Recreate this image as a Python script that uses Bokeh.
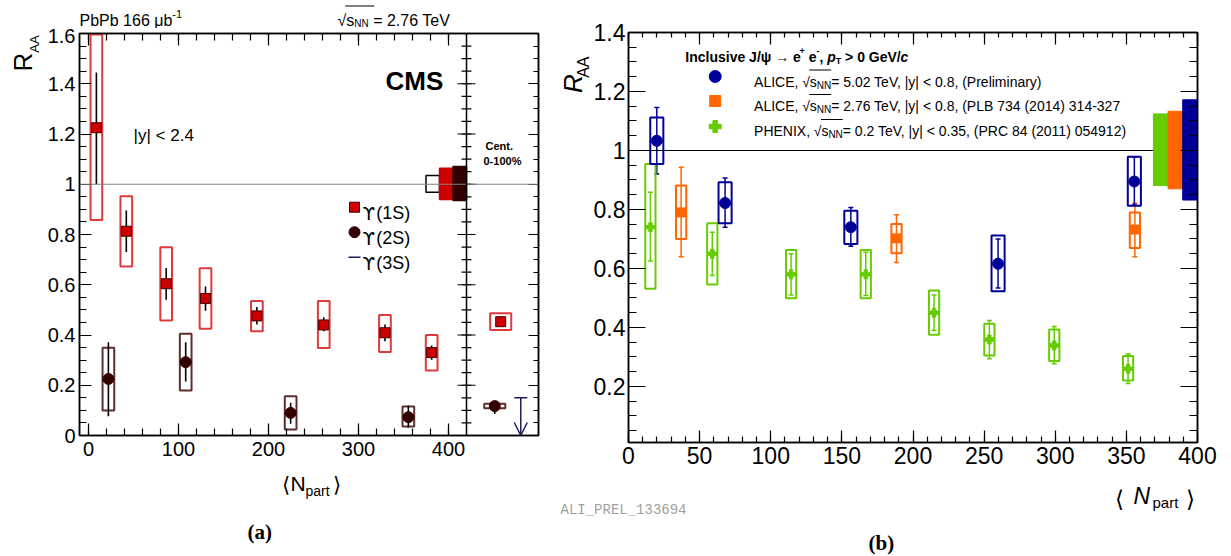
import math
from bokeh.plotting import figure
from bokeh.layouts import row, column
from bokeh.models import (Range1d, FixedTicker, LinearAxis, Label, Span,
                          ColumnDataSource, Whisker, TeeHead, Arrow, OpenHead,
                          CustomJSTickFormatter)
from bokeh.embed import file_html
from bokeh.resources import INLINE

# ===================== Panel (a): CMS, Upsilon R_AA vs <Npart> =====================
npart_1s   = [8.75, 42.0, 86.3, 130.0, 187.1, 261.4, 329.4, 381.3]
raa_1s     = [1.225, 0.813, 0.604, 0.545, 0.476, 0.440, 0.409, 0.330]
stat_lo_1s = [1.000, 0.730, 0.540, 0.497, 0.442, 0.415, 0.375, 0.301]
stat_hi_1s = [1.445, 0.896, 0.667, 0.593, 0.511, 0.471, 0.442, 0.358]
syst_lo_1s = [0.858, 0.673, 0.458, 0.425, 0.415, 0.348, 0.332, 0.259]
syst_hi_1s = [1.596, 0.952, 0.749, 0.666, 0.535, 0.535, 0.480, 0.400]

npart_2s   = [22.1, 108.0, 224.6, 355.4]
raa_2s     = [0.225, 0.292, 0.090, 0.073]
stat_lo_2s = [0.077, 0.215, 0.047, 0.031]
stat_hi_2s = [0.371, 0.371, 0.130, 0.119]
syst_lo_2s = [0.100, 0.179, 0.024, 0.036]
syst_hi_2s = [0.349, 0.405, 0.156, 0.115]

# centrality-integrated (0-100 %) values, drawn in the narrow side panel
int_x_1s, int_raa_1s, int_stat_lo_1s, int_stat_hi_1s, int_syst_lo_1s, int_syst_hi_1s = [458.0], [0.453], [0.440], [0.466], [0.420], [0.487]
int_x_2s, int_raa_2s, int_stat_lo_2s, int_stat_hi_2s, int_syst_lo_2s, int_syst_hi_2s = [451.4], [0.117], [0.086], [0.137], [0.108], [0.126]
int_x_3s, int_ul_3s = [480.3], [0.150]

# global uncertainty boxes at R_AA = 1
glob_a_left  = [375.0, 390.0, 405.0]
glob_a_right = [390.0, 405.0, 420.0]
glob_a_lo    = [0.968, 0.939, 0.935]
glob_a_hi    = [1.035, 1.064, 1.071]

ticks_a_x = [0, 100, 200, 300, 400]
minor_a_x = list(range(0, 401, 20))
ticks_a_y = [0, 0.2, 0.4, 0.6, 0.8, 1.0, 1.2, 1.4, 1.6]
minor_a_y = [round(0.05 * i, 2) for i in range(33)]

# ===================== Panel (b): ALICE / PHENIX, J/psi R_AA vs <Npart> =====================
npart_b   = [19.9, 67.9, 156.3, 259.8, 355.6]
raa_b     = [1.033, 0.822, 0.740, 0.616, 0.895]
stat_lo_b = [0.920, 0.740, 0.675, 0.534, 0.815]
stat_hi_b = [1.146, 0.907, 0.807, 0.700, 0.978]
syst_lo_b = [0.954, 0.753, 0.683, 0.523, 0.813]
syst_hi_b = [1.112, 0.892, 0.796, 0.712, 0.979]

npart_o   = [37.0, 188.4, 356.0]
raa_o     = [0.790, 0.702, 0.732]
stat_lo_o = [0.640, 0.620, 0.640]
stat_hi_o = [0.943, 0.782, 0.821]
syst_lo_o = [0.700, 0.652, 0.669]
syst_hi_o = [0.881, 0.751, 0.790]

npart_g   = [15.4, 58.9, 114.3, 166.8, 214.8, 253.7, 299.3, 351.2]
raa_g     = [0.740, 0.650, 0.580, 0.580, 0.450, 0.359, 0.339, 0.260]
stat_lo_g = [0.625, 0.576, 0.510, 0.508, 0.390, 0.294, 0.277, 0.210]
stat_hi_g = [0.858, 0.723, 0.650, 0.655, 0.510, 0.424, 0.403, 0.310]
syst_lo_g = [0.531, 0.546, 0.499, 0.499, 0.375, 0.305, 0.286, 0.220]
syst_hi_g = [0.954, 0.753, 0.663, 0.663, 0.525, 0.413, 0.393, 0.303]

glob_b_left  = [369.0, 379.3, 389.6]
glob_b_right = [379.3, 389.6, 400.0]
glob_b_lo    = [0.881, 0.870, 0.832]
glob_b_hi    = [1.124, 1.133, 1.172]

ticks_b_x = [0, 50, 100, 150, 200, 250, 300, 350, 400]
minor_b_x = list(range(0, 401, 10))
ticks_b_y = [0.2, 0.4, 0.6, 0.8, 1.0, 1.2, 1.4]
minor_b_y = [round(0.05 * i, 2) for i in range(1, 29)]

# ===================== styles =====================
SANS = "Liberation Sans"
SERIF = "Liberation Serif"
MONO = "Liberation Mono"
SYM = "DejaVu Sans"
RED, RED_BOX = "#cc0000", "#dd3b3b"
DARK, DARK_BOX = "#330000", "#5c2e2e"
NAVY = "#1c1c5a"
BLUE, ORANGE, GREEN = "#000099", "#ff6600", "#66cc00"

HW_A, HW_INT = 6.5, 11.7
HW_B, HW_OG = 4.6, 3.6


def _tab(spec):
    d = {}
    for chars, w in spec:
        for c in chars:
            d[c] = w
    return d


SPECIAL = {"μ": 576, "ψ": 690, "√": 549, "→": 1000, "ϒ": 760, "⟨": 390, "⟩": 390}
REG = _tab([(" !,./ftI", 278), ("()-r", 333), ("+<=>", 584), ("0123456789abdeghnopquL", 556),
            ("|", 260), ("%", 889), ("ABEKPSVXY", 667), ("CDHNRUw", 722), ("FTZ", 611),
            ("GOQ", 778), ("Jcksvxyz", 500), ("Mm", 833), ("W", 944), ("ijl", 222)])
BOLD = _tab([(" !,./Iijl", 278), ("()-ft", 333), ("+<=>", 584), ("0123456789aceksvxyJ", 556),
             ("bdghnopquLFTZ", 611), ("z", 500), ("r", 389), ("|", 280), ("%m", 889),
             ("ABCDHKNRU", 722), ("EPSVXY", 667), ("GOQw", 778), ("M", 833), ("W", 944)])
REG.update(SPECIAL)
BOLD.update(SPECIAL)


def tw(s, size, bold=False):
    tab = BOLD if bold else REG
    return sum(tab.get(c, 600) for c in s) * size / 1000.0


def label(p, x, y, text, size, style="normal", font=SANS, color="black", angle=0.0,
          align="left", baseline="alphabetic"):
    p.add_layout(Label(x=x, y=y, text=text, text_font=font, text_font_size=f"{size}px",
                       text_font_style=style, text_color=color, angle=angle,
                       text_align=align, text_baseline=baseline))


def flow(p, fx, fy, x0, yb, parts, color="black"):
    """Lay out text pieces (text, size, baseline shift, style[, font]) left to right; return start xs."""
    x = x0
    starts = []
    for part in parts:
        txt, size, dy, style = part[:4]
        font = part[4] if len(part) > 4 else SANS
        bold = "bold" in style
        core = txt.strip()
        lead = len(txt) - len(txt.lstrip())
        x += tw(" " * lead, size, bold)
        starts.append(x)
        label(p, fx(x), fy(yb + dy), core, size, style, font, color)
        x += tw(txt.lstrip(), size, bold)
    starts.append(x)
    return starts


FMT = CustomJSTickFormatter(code="return String(parseFloat(tick.toFixed(2)));")
BLANK = CustomJSTickFormatter(code="return '';")


def style_axis(ax, ticks, minor, tin, tmin, size=None, standoff=0):
    ax.ticker = FixedTicker(ticks=ticks, minor_ticks=minor)
    ax.major_tick_in, ax.major_tick_out = tin, 0
    ax.minor_tick_in, ax.minor_tick_out = tmin, 0
    ax.axis_line_color, ax.axis_line_width = "black", 1.5
    ax.major_tick_line_color = ax.minor_tick_line_color = "black"
    ax.major_tick_line_width = ax.minor_tick_line_width = 1.2
    ax.axis_label = None
    if size:
        ax.formatter = FMT
        ax.major_label_text_font = SANS
        ax.major_label_text_font_size = f"{size}px"
        ax.major_label_text_color = "black"
        ax.major_label_standoff = standoff
    else:
        ax.formatter = BLANK
        ax.major_label_text_font_size = "1px"
        ax.major_label_standoff = 0


def canvas(w, h):
    """Plain drawing strip in pixel units for texts outside the plot frames."""
    f = figure(width=w, height=h, x_range=Range1d(0, w), y_range=Range1d(0, h),
               x_axis_type=None, y_axis_type=None, output_backend="svg", title=None,
               toolbar_location=None, min_border=0)
    f.outline_line_color = None
    f.grid.visible = False
    return f


def offs(ox, oy, h):
    """global pixel (x right, y down) -> canvas data (x right, y up)."""
    return (lambda px: px - ox), (lambda py: h - (py - oy))


# ---------- global layout (px) ----------
W_LEFT = 548
TOP_L, MID_L = 28, 436
YLAB_L = 40
YLAB_R, MID_R = 42, 473
FL = dict(x0=79, x1=538, y0=33, y1=435)
FR = dict(x0=626, x1=1197, y0=32, y1=442)
LX, LY = (-10.0, 500.0), (0.0, 1.6)
RX, RY = (0.0, 400.0), (0.01, 1.4)


def fxL(px):
    return LX[0] + (px - FL["x0"]) * (LX[1] - LX[0]) / (FL["x1"] - FL["x0"])


def fyL(py):
    return LY[1] - (py - FL["y0"]) * (LY[1] - LY[0]) / (FL["y1"] - FL["y0"])


def fxR(px):
    return RX[0] + (px - FR["x0"]) * (RX[1] - RX[0]) / (FR["x1"] - FR["x0"])


def fyR(py):
    return RY[1] - (py - FR["y0"]) * (RY[1] - RY[0]) / (FR["y1"] - FR["y0"])


# ===================== figure (a) =====================
wL = W_LEFT - YLAB_L
pL = figure(width=wL, height=MID_L, x_range=Range1d(*LX), y_range=Range1d(*LY),
            output_backend="svg", toolbar_location=None,
            min_border_left=FL["x0"] - YLAB_L, min_border_right=W_LEFT - FL["x1"],
            min_border_top=FL["y0"] - TOP_L, min_border_bottom=TOP_L + MID_L - FL["y1"])
pL.grid.visible = False
pL.outline_line_color, pL.outline_line_width = "black", 1.5
style_axis(pL.xaxis[0], ticks_a_x, minor_a_x, 12, 7, 20, 6)
style_axis(pL.yaxis[0], ticks_a_y, minor_a_y, 12, 7, 20, 4)
axL_top = LinearAxis()
pL.add_layout(axL_top, "above")
style_axis(axL_top, ticks_a_x, minor_a_x, 12, 7)
axL_right = LinearAxis()
pL.add_layout(axL_right, "right")
style_axis(axL_right, ticks_a_y, minor_a_y, 10, 5)

pL.add_layout(Span(location=1.0, dimension="width", line_color="#808080", line_width=1))
DIV_X = 420.0
pL.add_layout(Span(location=DIV_X, dimension="height", line_color="black", line_width=1.5))
pL.segment(x0=[DIV_X - 10] * len(ticks_a_y), x1=[DIV_X + 10] * len(ticks_a_y),
           y0=ticks_a_y, y1=ticks_a_y, line_color="black", line_width=1.2)
pL.segment(x0=[DIV_X - 5.5] * len(minor_a_y), x1=[DIV_X + 5.5] * len(minor_a_y),
           y0=minor_a_y, y1=minor_a_y, line_color="black", line_width=1.2)

pL.quad(left=glob_a_left, right=glob_a_right, bottom=glob_a_lo, top=glob_a_hi,
        fill_color=[None, RED, DARK], line_color=["black", RED, DARK], line_width=1.5)


def series_a(xs, ys, slo, shi, blo, bhi, hw, box_color, marker, size, fill, edge):
    src = ColumnDataSource(dict(x=xs, y=ys, slo=slo, shi=shi,
                                l=[v - hw for v in xs], r=[v + hw for v in xs], b=blo, t=bhi))
    pL.quad(left="l", right="r", bottom="b", top="t", source=src, fill_color=None,
            line_color=box_color, line_width=2)
    pL.segment(x0="x", x1="x", y0="slo", y1="shi", source=src, line_color="black", line_width=1.6)
    pL.scatter("x", "y", source=src, marker=marker, size=size, fill_color=fill, line_color=edge)


series_a(npart_1s, raa_1s, stat_lo_1s, stat_hi_1s, syst_lo_1s, syst_hi_1s, HW_A, RED_BOX, "square", 10, RED, "#440000")
series_a(npart_2s, raa_2s, stat_lo_2s, stat_hi_2s, syst_lo_2s, syst_hi_2s, HW_A, DARK_BOX, "circle", 11, DARK, DARK)
series_a(int_x_1s, int_raa_1s, int_stat_lo_1s, int_stat_hi_1s, int_syst_lo_1s, int_syst_hi_1s, HW_INT, RED_BOX, "square", 10, RED, "#440000")
series_a(int_x_2s, int_raa_2s, int_stat_lo_2s, int_stat_hi_2s, int_syst_lo_2s, int_syst_hi_2s, HW_INT, DARK_BOX, "circle", 11, DARK, DARK)

si3 = ColumnDataSource(dict(x=int_x_3s, top=int_ul_3s, bottom=[0.0]))
pL.add_layout(Arrow(source=si3, x_start="x", y_start="top", x_end="x", y_end="bottom",
                    line_color=NAVY, line_width=1.5,
                    start=TeeHead(size=13, line_color=NAVY, line_width=1.5),
                    end=OpenHead(size=13, line_color=NAVY, line_width=1.5)))

# legend (a)
pL.scatter([fxL(354)], [fyL(206.7)], marker="square", size=10, fill_color=RED, line_color="#440000")
pL.scatter([fxL(354)], [fyL(231.7)], marker="circle", size=11, fill_color=DARK, line_color=DARK)
pL.segment(x0=[fxL(348)], x1=[fxL(360)], y0=[fyL(256.7)], y1=[fyL(256.7)], line_color=NAVY, line_width=1.5)
for yb, txt in [(212.5, "(1S)"), (237.5, "(2S)"), (262.5, "(3S)")]:
    flow(pL, fxL, fyL, 362, yb, [("ϒ", 18, 0, "normal", SYM), (txt, 18, 0, "normal")])

label(pL, fxL(385), fyL(80), "CMS", 26, "bold")
label(pL, fxL(133), fyL(135), "|y| < 2.4", 17)
label(pL, fxL(485), fyL(145.7), "Cent.", 11, "bold")
label(pL, fxL(483), fyL(160), "0-100%", 11, "bold")

# header strip (a)
topL = canvas(W_LEFT, TOP_L)
gx, gy = offs(0, 0, TOP_L)
flow(topL, gx, gy, 79, 20, [("PbPb 166 μb", 16, 0, "normal"), ("-1", 11, -6.5, "normal")])
xs = flow(topL, gx, gy, 337, 20, [("√", 16, 0, "normal"), ("s", 16, 0, "normal"),
                                  ("NN", 10, 3.0, "normal"), (" = 2.76 TeV", 16, 0, "normal")])
topL.segment(x0=[gx(xs[1] - 1)], x1=[gx(xs[3] + 1)], y0=[gy(5.5)], y1=[gy(5.5)], line_color="black", line_width=1)

# y-title strip (a): rotated, anchored at glyph centres
ylabL = canvas(YLAB_L, MID_L)
gx, gy = offs(0, TOP_L, MID_L)
label(ylabL, gx(22.5), gy(59), "R", 26, angle=math.pi / 2, align="center", baseline="middle")
label(ylabL, gx(33.5), gy(39.5), "AA", 13, angle=math.pi / 2, align="center", baseline="middle")

# bottom strip (a)
H_BL = 556 - TOP_L - MID_L
botL = canvas(W_LEFT, H_BL)
gx, gy = offs(0, TOP_L + MID_L, H_BL)
label(botL, gx(281), gy(484), "⟨", 21)
label(botL, gx(290), gy(483), "N", 21)
label(botL, gx(305), gy(490), "part", 14)
label(botL, gx(332), gy(484), "⟩", 21)
label(botL, gx(247), gy(531), "(a)", 21, "bold", SERIF)

# ===================== figure (b) =====================
wR = 1231 - W_LEFT - YLAB_R
xR0 = W_LEFT + YLAB_R
pR = figure(width=wR, height=MID_R, x_range=Range1d(*RX), y_range=Range1d(*RY),
            output_backend="svg", toolbar_location=None,
            min_border_left=FR["x0"] - xR0, min_border_right=1231 - FR["x1"],
            min_border_top=FR["y0"], min_border_bottom=MID_R - FR["y1"])
pR.grid.visible = False
pR.outline_line_color, pR.outline_line_width = "black", 1.5
style_axis(pR.xaxis[0], ticks_b_x, minor_b_x, 12, 6, 23, 4)
style_axis(pR.yaxis[0], ticks_b_y, minor_b_y, 17, 8, 23, 3)
axR_top = LinearAxis()
pR.add_layout(axR_top, "above")
style_axis(axR_top, ticks_b_x, minor_b_x, 12, 5)
axR_right = LinearAxis()
pR.add_layout(axR_right, "right")
style_axis(axR_right, ticks_b_y, minor_b_y, 17, 8)

pR.segment(x0=[RX[0]], x1=[glob_b_left[0]], y0=[1.0], y1=[1.0], line_color="black", line_width=1)
pR.quad(left=glob_b_left, right=glob_b_right, bottom=glob_b_lo, top=glob_b_hi,
        fill_color=[GREEN, ORANGE, BLUE], line_color=[GREEN, ORANGE, BLUE], line_width=1)


def series_b(xs, ys, slo, shi, blo, bhi, hw, color, marker, size):
    src = ColumnDataSource(dict(x=xs, y=ys, slo=slo, shi=shi,
                                l=[v - hw for v in xs], r=[v + hw for v in xs], b=blo, t=bhi))
    pR.quad(left="l", right="r", bottom="b", top="t", source=src, fill_color=None,
            line_color=color, line_width=2)
    pR.add_layout(Whisker(source=src, base="x", lower="slo", upper="shi",
                          line_color=color, line_width=1.5,
                          lower_head=TeeHead(size=5, line_color=color, line_width=1.5),
                          upper_head=TeeHead(size=5, line_color=color, line_width=1.5)))
    pR.scatter("x", "y", source=src, marker=marker, size=size, fill_color=color, line_color=color)


series_b(npart_g, raa_g, stat_lo_g, stat_hi_g, syst_lo_g, syst_hi_g, HW_OG, GREEN, "plus", 9)
series_b(npart_o, raa_o, stat_lo_o, stat_hi_o, syst_lo_o, syst_hi_o, HW_OG, ORANGE, "square", 9)
series_b(npart_b, raa_b, stat_lo_b, stat_hi_b, syst_lo_b, syst_hi_b, HW_B, BLUE, "circle", 11)

# legend (b)
pR.scatter([fxR(713)], [fyR(76)], marker="circle", size=12, fill_color=BLUE, line_color=BLUE)
pR.scatter([fxR(713)], [fyR(100.5)], marker="square", size=11, fill_color=ORANGE, line_color=ORANGE)
pR.scatter([fxR(713)], [fyR(126)], marker="plus", size=12, fill_color=GREEN, line_color=GREEN)
flow(pR, fxR, fyR, 683, 56.5, [("Inclusive J/ψ → e", 14, 0, "bold"), ("+", 9, -6, "bold"),
                               (" e", 14, 0, "bold"), ("-", 9, -6, "bold"), (", ", 14, 0, "bold"),
                               ("p", 14, 0, "bold italic"), ("T", 9, 4, "bold"),
                               (" > 0 GeV/", 14, 0, "bold"), ("c", 14, 0, "bold italic")])
for yb, head, tail in [(81, "ALICE, ", "= 5.02 TeV, |y| < 0.8, (Preliminary)"),
                       (105.5, "ALICE, ", "= 2.76 TeV, |y| < 0.8, (PLB 734 (2014) 314-327"),
                       (130.5, "PHENIX, ", "= 0.2 TeV, |y| < 0.35, (PRC 84 (2011) 054912)")]:
    xs = flow(pR, fxR, fyR, 752, yb, [(head, 14, 0, "normal"), ("√", 14, 0, "normal"),
                                      ("s", 14, 0, "normal"), ("NN", 10, 3.5, "normal"),
                                      (tail, 14, 0, "normal")])
    pR.segment(x0=[fxR(xs[2] - 0.5)], x1=[fxR(xs[4])], y0=[fyR(yb - 11.5)], y1=[fyR(yb - 11.5)],
               line_color="black", line_width=1)

# y-title strip (b)
ylabR = canvas(YLAB_R, MID_R)
gx, gy = offs(W_LEFT, 0, MID_R)
label(ylabR, gx(572.5), gy(59), "R", 26, "italic", angle=math.pi / 2, align="center", baseline="middle")
label(ylabR, gx(582.5), gy(40), "AA", 16, angle=math.pi / 2, align="center", baseline="middle")

# bottom strip (b)
H_BR = 556 - MID_R
botR = canvas(1231 - W_LEFT, H_BR)
gx, gy = offs(W_LEFT, MID_R, H_BR)
label(botR, gx(1114), gy(498), "⟨", 23)
label(botR, gx(1133), gy(495), "N", 23, "italic")
label(botR, gx(1152), gy(502), "part", 15)
label(botR, gx(1185), gy(498), "⟩", 23)
label(botR, gx(560), gy(509), "ALI_PREL_133694", 14, font=MONO, color="#a0a0a0")
label(botR, gx(868), gy(542), "(b)", 21, "bold", SERIF)

left_col = column(topL, row(ylabL, pL), botL)
right_col = column(row(ylabR, pR), botR)
layout = row(left_col, right_col)
open("out.html", "w").write(file_html(layout, INLINE))
